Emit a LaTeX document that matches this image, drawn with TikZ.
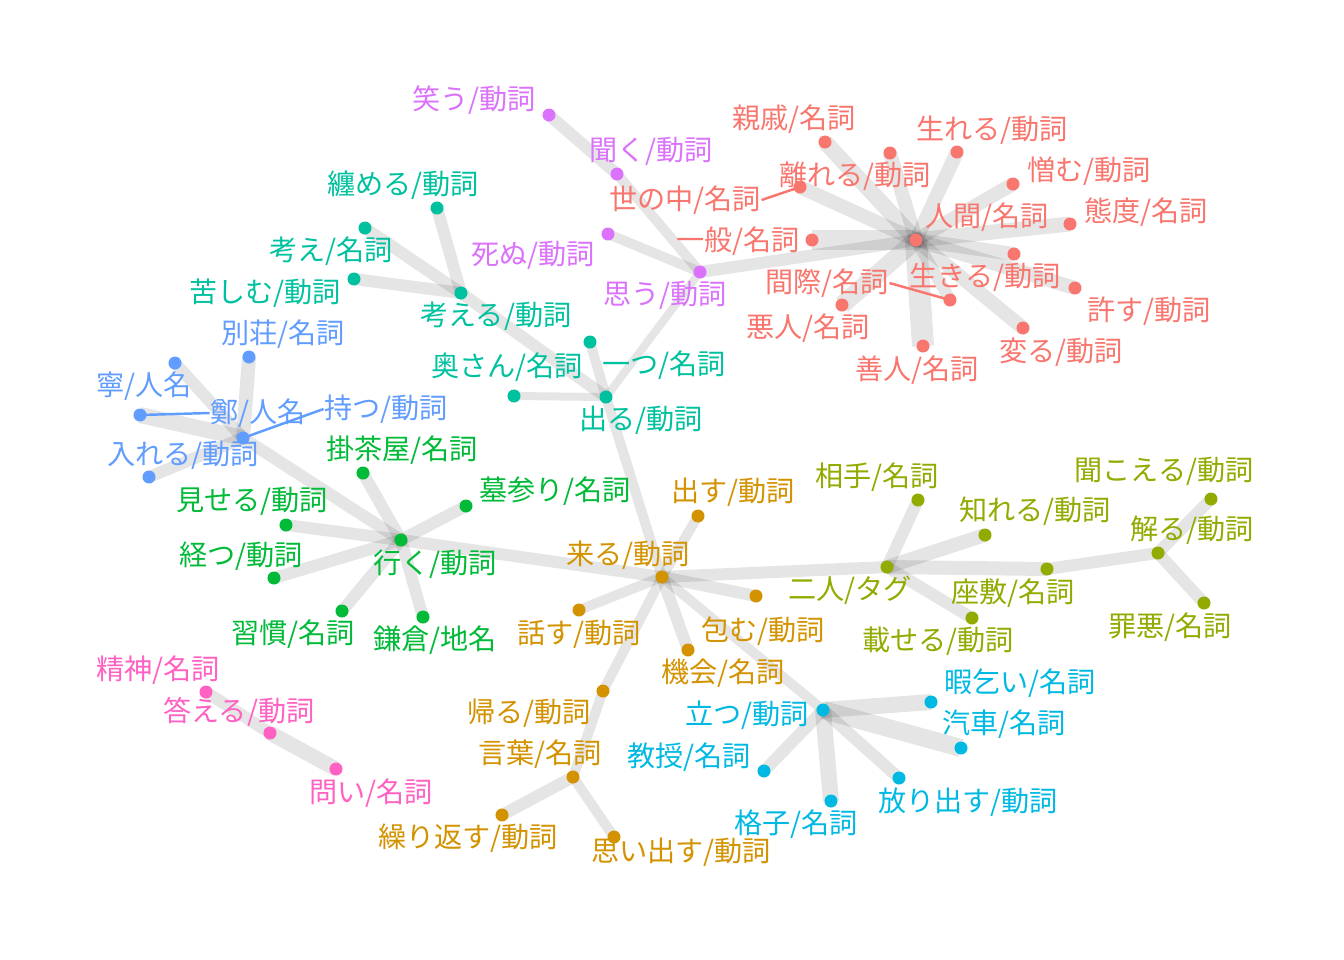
\documentclass[tikz,border=0pt]{standalone}
\usepackage{fontspec}
\newfontfamily\jpfont{Noto Sans CJK JP}
\definecolor{cRed}{HTML}{F8766D}
\definecolor{cGold}{HTML}{D39200}
\definecolor{cOlive}{HTML}{93AA00}
\definecolor{cGreen}{HTML}{00BA38}
\definecolor{cTeal}{HTML}{00C19F}
\definecolor{cCyan}{HTML}{00B9E3}
\definecolor{cBlue}{HTML}{619CFF}
\definecolor{cPurple}{HTML}{DB72FB}
\definecolor{cPink}{HTML}{FF61C3}
\tikzset{
  band/.style={draw=black,opacity=0.1,line width={#1*0.2845pt},line cap=butt},
  band/.default=12,
  dot/.style={circle,fill=#1,inner sep=0pt,minimum size=0.13cm},
  lbl/.style={text=#1,inner sep=0pt,font=\jpfont\fontsize{8pt}{9.5pt}\selectfont},
  leader/.style={draw=#1,line width=0.7pt}
}
\begin{document}
\begin{tikzpicture}[x=0.01cm,y=-0.01cm]
  \useasboundingbox (0,0) rectangle (1344,960);
  % points
  \coordinate (ningen) at (916,240);
  \coordinate (shinseki) at (825,142);
  \coordinate (hanareru) at (890,153);
  \coordinate (umareru) at (957,152);
  \coordinate (nikumu) at (1013,184);
  \coordinate (taido) at (1070,224);
  \coordinate (ippan) at (812,240);
  \coordinate (yononaka) at (800,187);
  \coordinate (magiwa) at (950,300);
  \coordinate (ikiru) at (1014,254);
  \coordinate (yurusu) at (1075,288);
  \coordinate (kawaru) at (1023,328);
  \coordinate (zennin) at (923,346);
  \coordinate (akunin) at (842,305);
  \coordinate (omou) at (700,272);
  \coordinate (warau) at (549,115);
  \coordinate (kiku) at (617,174);
  \coordinate (shinu) at (608,234);
  \coordinate (deru) at (606,397);
  \coordinate (hitotsu) at (590,342);
  \coordinate (okusan) at (514,396);
  \coordinate (kangaeru) at (461,293);
  \coordinate (kangae) at (365,228);
  \coordinate (matomeru) at (437,208);
  \coordinate (kurushimu) at (354,279);
  \coordinate (motsu) at (243,438);
  \coordinate (nei) at (175,363);
  \coordinate (tei) at (140,415);
  \coordinate (ireru) at (149,477);
  \coordinate (bessou) at (249,357);
  \coordinate (iku) at (401,540);
  \coordinate (kakejaya) at (363,473);
  \coordinate (hakamairi) at (466,506);
  \coordinate (miseru) at (286,525);
  \coordinate (heru) at (274,578);
  \coordinate (shuukan) at (342,611);
  \coordinate (kamakura) at (423,617);
  \coordinate (kuru) at (662,577);
  \coordinate (dasu) at (698,516);
  \coordinate (hanasu) at (579,610);
  \coordinate (tsutsumu) at (756,596);
  \coordinate (kikai) at (688,650);
  \coordinate (kaeru) at (603,691);
  \coordinate (kotoba) at (573,777);
  \coordinate (kurikaesu) at (502,815);
  \coordinate (omoidasu) at (614,837);
  \coordinate (futari) at (887,567);
  \coordinate (aite) at (918,500);
  \coordinate (shireru) at (985,535);
  \coordinate (zashiki) at (1047,569);
  \coordinate (noseru) at (972,618);
  \coordinate (wakaru) at (1158,553);
  \coordinate (kikoeru) at (1211,499);
  \coordinate (zaiaku) at (1204,603);
  \coordinate (tatsu) at (823,710);
  \coordinate (itomagoi) at (931,702);
  \coordinate (kisha) at (961,748);
  \coordinate (horidasu) at (899,778);
  \coordinate (koushi) at (831,801);
  \coordinate (kyouju) at (764,771);
  \coordinate (seishin) at (206,692);
  \coordinate (kotaeru) at (270,733);
  \coordinate (toi) at (336,769);

  % edges
  \draw[band=16] (ningen) -- (shinseki);
  \draw[band=14] (ningen) -- (hanareru);
  \draw[band=14] (ningen) -- (umareru);
  \draw[band=14] (ningen) -- (nikumu);
  \draw[band=15] (ningen) -- (taido);
  \draw[band=20] (ningen) -- (ippan);
  \draw[band=14] (ningen) -- (yononaka);
  \draw[band=12] (ningen) -- (magiwa);
  \draw[band=14] (ningen) -- (ikiru);
  \draw[band=14] (ningen) -- (yurusu);
  \draw[band=14] (ningen) -- (kawaru);
  \draw[band=22] (ningen) -- (zennin);
  \draw[band=18] (ningen) -- (akunin);
  \draw[band=12] (ningen) -- (omou);
  \draw[band=10] (omou) -- (kiku);
  \draw[band=12] (kiku) -- (warau);
  \draw[band=10] (omou) -- (shinu);
  \draw[band=8] (omou) -- (deru);
  \draw[band=12] (deru) -- (kangaeru);
  \draw[band=12] (kangaeru) -- (kangae);
  \draw[band=12] (kangaeru) -- (matomeru);
  \draw[band=12] (kangaeru) -- (kurushimu);
  \draw[band=10] (deru) -- (hitotsu);
  \draw[band=8] (deru) -- (okusan);
  \draw[band=10] (deru) -- (kuru);
  \draw[band=12] (motsu) -- (nei);
  \draw[band=16] (motsu) -- (tei);
  \draw[band=12] (motsu) -- (ireru);
  \draw[band=14] (motsu) -- (bessou);
  \draw[band=12] (motsu) -- (iku);
  \draw[band=12] (iku) -- (kakejaya);
  \draw[band=12] (iku) -- (hakamairi);
  \draw[band=12] (iku) -- (miseru);
  \draw[band=12] (iku) -- (heru);
  \draw[band=12] (iku) -- (shuukan);
  \draw[band=12] (iku) -- (kamakura);
  \draw[band=12] (iku) -- (kuru);
  \draw[band=10] (kuru) -- (dasu);
  \draw[band=10] (kuru) -- (hanasu);
  \draw[band=12] (kuru) -- (tsutsumu);
  \draw[band=12] (kuru) -- (kikai);
  \draw[band=10] (kuru) -- (kaeru);
  \draw[band=10] (kaeru) -- (kotoba);
  \draw[band=12] (kotoba) -- (kurikaesu);
  \draw[band=10] (kotoba) -- (omoidasu);
  \draw[band=12] (kuru) -- (futari);
  \draw[band=10] (kuru) -- (tatsu);
  \draw[band=12] (futari) -- (aite);
  \draw[band=14] (futari) -- (shireru);
  \draw[band=14] (futari) -- (zashiki);
  \draw[band=12] (futari) -- (noseru);
  \draw[band=12] (zashiki) -- (wakaru);
  \draw[band=12] (wakaru) -- (kikoeru);
  \draw[band=12] (wakaru) -- (zaiaku);
  \draw[band=16] (tatsu) -- (itomagoi);
  \draw[band=18] (tatsu) -- (kisha);
  \draw[band=12] (tatsu) -- (horidasu);
  \draw[band=16] (tatsu) -- (koushi);
  \draw[band=12] (tatsu) -- (kyouju);
  \draw[band=12] (seishin) -- (kotaeru);
  \draw[band=15] (kotaeru) -- (toi);

  % dots
  \foreach \p in {ningen,shinseki,hanareru,umareru,nikumu,taido,ippan,yononaka,magiwa,ikiru,yurusu,kawaru,zennin,akunin}
    \node[dot=cRed] at (\p) {};
  \foreach \p in {omou,warau,kiku,shinu}
    \node[dot=cPurple] at (\p) {};
  \foreach \p in {deru,hitotsu,okusan,kangaeru,kangae,matomeru,kurushimu}
    \node[dot=cTeal] at (\p) {};
  \foreach \p in {motsu,nei,tei,ireru,bessou}
    \node[dot=cBlue] at (\p) {};
  \foreach \p in {iku,kakejaya,hakamairi,miseru,heru,shuukan,kamakura}
    \node[dot=cGreen] at (\p) {};
  \foreach \p in {kuru,dasu,hanasu,tsutsumu,kikai,kaeru,kotoba,kurikaesu,omoidasu}
    \node[dot=cGold] at (\p) {};
  \foreach \p in {futari,aite,shireru,zashiki,noseru,wakaru,kikoeru,zaiaku}
    \node[dot=cOlive] at (\p) {};
  \foreach \p in {tatsu,itomagoi,kisha,horidasu,koushi,kyouju}
    \node[dot=cCyan] at (\p) {};
  \foreach \p in {seishin,kotaeru,toi}
    \node[dot=cPink] at (\p) {};

  % labels
  \node[lbl=cRed] (ningen-l) at (987,217) {人間/名詞};
  \node[lbl=cRed] (shinseki-l) at (794,119) {親戚/名詞};
  \node[lbl=cRed] (hanareru-l) at (855,176) {離れる/動詞};
  \node[lbl=cRed] (umareru-l) at (992,130) {生れる/動詞};
  \node[lbl=cRed] (nikumu-l) at (1089,171) {憎む/動詞};
  \node[lbl=cRed] (taido-l) at (1146,212) {態度/名詞};
  \node[lbl=cRed] (ippan-l) at (738,241) {一般/名詞};
  \node[lbl=cRed] (yononaka-l) at (685,200) {世の中/名詞};
  \node[lbl=cRed] (magiwa-l) at (827,283) {間際/名詞};
  \node[lbl=cRed] (ikiru-l) at (985,277) {生きる/動詞};
  \node[lbl=cRed] (yurusu-l) at (1149,311) {許す/動詞};
  \node[lbl=cRed] (kawaru-l) at (1061,352) {変る/動詞};
  \node[lbl=cRed] (zennin-l) at (917,370) {善人/名詞};
  \node[lbl=cRed] (akunin-l) at (808,328) {悪人/名詞};
  \node[lbl=cPurple] (omou-l) at (665,295) {思う/動詞};
  \node[lbl=cPurple] (warau-l) at (474,100) {笑う/動詞};
  \node[lbl=cPurple] (kiku-l) at (651,151) {聞く/動詞};
  \node[lbl=cPurple] (shinu-l) at (533,255) {死ぬ/動詞};
  \node[lbl=cTeal] (deru-l) at (641,420) {出る/動詞};
  \node[lbl=cTeal] (hitotsu-l) at (664,365) {一つ/名詞};
  \node[lbl=cTeal] (okusan-l) at (507,367) {奥さん/名詞};
  \node[lbl=cTeal] (kangaeru-l) at (496,316) {考える/動詞};
  \node[lbl=cTeal] (kangae-l) at (331,251) {考え/名詞};
  \node[lbl=cTeal] (matomeru-l) at (403,185) {纏める/動詞};
  \node[lbl=cTeal] (kurushimu-l) at (265,293) {苦しむ/動詞};
  \node[lbl=cBlue] (motsu-l) at (386,409) {持つ/動詞};
  \node[lbl=cBlue] (nei-l) at (144,386) {寧/人名};
  \node[lbl=cBlue] (tei-l) at (258,413) {鄭/人名};
  \node[lbl=cBlue] (ireru-l) at (183,455) {入れる/動詞};
  \node[lbl=cBlue] (bessou-l) at (283,334) {別荘/名詞};
  \node[lbl=cGreen] (iku-l) at (435,564) {行く/動詞};
  \node[lbl=cGreen] (kakejaya-l) at (402,450) {掛茶屋/名詞};
  \node[lbl=cGreen] (hakamairi-l) at (555,491) {墓参り/名詞};
  \node[lbl=cGreen] (miseru-l) at (252,501) {見せる/動詞};
  \node[lbl=cGreen] (heru-l) at (241,556) {経つ/動詞};
  \node[lbl=cGreen] (shuukan-l) at (293,634) {習慣/名詞};
  \node[lbl=cGreen] (kamakura-l) at (435,640) {鎌倉/地名};
  \node[lbl=cGold] (kuru-l) at (628,555) {来る/動詞};
  \node[lbl=cGold] (dasu-l) at (733,492) {出す/動詞};
  \node[lbl=cGold] (hanasu-l) at (579,634) {話す/動詞};
  \node[lbl=cGold] (tsutsumu-l) at (763,631) {包む/動詞};
  \node[lbl=cGold] (kikai-l) at (723,673) {機会/名詞};
  \node[lbl=cGold] (kaeru-l) at (529,713) {帰る/動詞};
  \node[lbl=cGold] (kotoba-l) at (540,754) {言葉/名詞};
  \node[lbl=cGold] (kurikaesu-l) at (468,838) {繰り返す/動詞};
  \node[lbl=cGold] (omoidasu-l) at (681,852) {思い出す/動詞};
  \node[lbl=cOlive] (futari-l) at (850,590) {二人/タグ};
  \node[lbl=cOlive] (aite-l) at (877,477) {相手/名詞};
  \node[lbl=cOlive] (shireru-l) at (1035,511) {知れる/動詞};
  \node[lbl=cOlive] (zashiki-l) at (1013,593) {座敷/名詞};
  \node[lbl=cOlive] (noseru-l) at (938,641) {載せる/動詞};
  \node[lbl=cOlive] (wakaru-l) at (1192,530) {解る/動詞};
  \node[lbl=cOlive] (kikoeru-l) at (1164,471) {聞こえる/動詞};
  \node[lbl=cOlive] (zaiaku-l) at (1170,627) {罪悪/名詞};
  \node[lbl=cCyan] (tatsu-l) at (747,715) {立つ/動詞};
  \node[lbl=cCyan] (itomagoi-l) at (1020,683) {暇乞い/名詞};
  \node[lbl=cCyan] (kisha-l) at (1004,724) {汽車/名詞};
  \node[lbl=cCyan] (horidasu-l) at (968,802) {放り出す/動詞};
  \node[lbl=cCyan] (koushi-l) at (796,824) {格子/名詞};
  \node[lbl=cCyan] (kyouju-l) at (689,757) {教授/名詞};
  \node[lbl=cPink] (seishin-l) at (158,670) {精神/名詞};
  \node[lbl=cPink] (kotaeru-l) at (239,712) {答える/動詞};
  \node[lbl=cPink] (toi-l) at (371,793) {問い/名詞};

  % leaders
  \draw[leader=cRed] (yononaka-l.east) -- (yononaka);
  \draw[leader=cRed] (magiwa-l.east) -- (magiwa);
  \draw[leader=cBlue] (tei) -- (tei-l.west);
  \draw[leader=cBlue] (motsu) -- (motsu-l.west);
\end{tikzpicture}
\end{document}
